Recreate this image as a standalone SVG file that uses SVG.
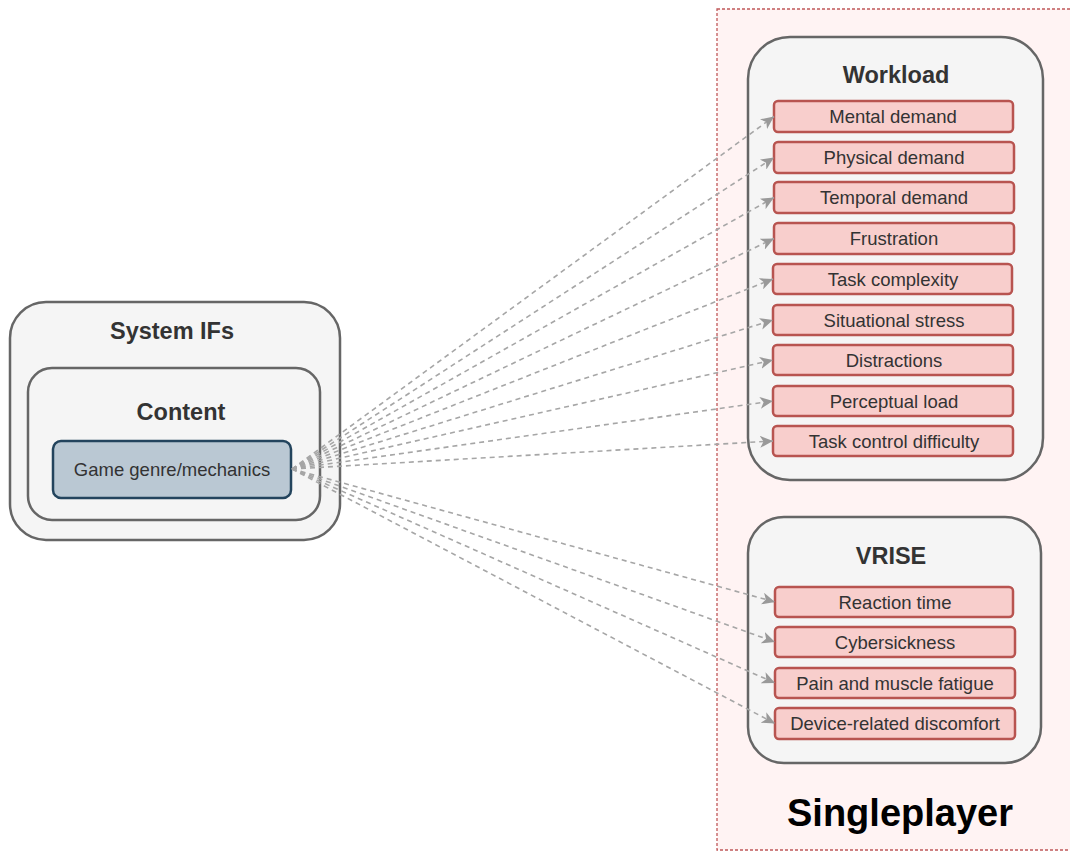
<svg xmlns="http://www.w3.org/2000/svg" width="1070" height="852" viewBox="0 0 1070 852">
<style>
.cont{fill:#f5f5f5;stroke:#666666;stroke-width:2.5}
.item{fill:#f8cecc;stroke:#b85450;stroke-width:2.5}
.it{font-family:"Liberation Sans",Arial,sans-serif;font-size:18.5px;fill:#333333;text-anchor:middle}
.tt{font-family:"Liberation Sans",Arial,sans-serif;font-size:23.5px;font-weight:bold;fill:#333333;text-anchor:middle}
.conn{fill:none;stroke:#a6a6a6;stroke-width:1.6;stroke-dasharray:5 4}
</style>
<defs>
<marker id="arr" markerUnits="userSpaceOnUse" markerWidth="14" markerHeight="12" viewBox="0 0 14 12" refX="13" refY="6" orient="auto">
<path d="M0,0 L13,6 L0,12 L3.5,6 Z" fill="#999999"/>
</marker>
</defs>
<rect width="1070" height="852" fill="#ffffff"/>
<g id="singleplayer">
<rect x="717" y="9" width="360" height="841" fill="#fff3f3" stroke="#c0585a" stroke-width="1.3" stroke-dasharray="3 2"/>
<text x="900" y="826" font-family="Liberation Sans,Arial,sans-serif" font-size="38" font-weight="bold" fill="#000000" text-anchor="middle">Singleplayer</text>
</g>
<g id="system-ifs">
<rect class="cont" x="10" y="302" width="330" height="238" rx="36"/>
<text class="tt" x="172" y="339">System IFs</text>
</g>
<g id="content">
<rect class="cont" x="28" y="368" width="292" height="152" rx="24"/>
<text class="tt" x="181" y="420">Content</text>
</g>
<g id="game-genre">
<rect x="53" y="441" width="238" height="57" rx="8" fill="#bac8d3" stroke="#23445d" stroke-width="2.5"/>
<text class="it" x="172" y="476">Game genre/mechanics</text>
</g>
<g id="workload">
<rect class="cont" x="748" y="37" width="295" height="443" rx="42"/>
<text class="tt" x="896" y="83">Workload</text>
</g>
<g id="vrise">
<rect class="cont" x="748" y="517" width="293" height="246" rx="36"/>
<text class="tt" x="891" y="564">VRISE</text>
</g>
<g id="mental-demand"><rect class="item" x="774" y="101" width="239" height="31" rx="4"/><text class="it" x="893" y="123">Mental demand</text></g>
<g id="physical-demand"><rect class="item" x="774" y="142" width="240" height="31" rx="4"/><text class="it" x="894" y="164">Physical demand</text></g>
<g id="temporal-demand"><rect class="item" x="774" y="182" width="240" height="31" rx="4"/><text class="it" x="894" y="204">Temporal demand</text></g>
<g id="frustration"><rect class="item" x="774" y="223" width="240" height="31" rx="4"/><text class="it" x="894" y="245">Frustration</text></g>
<g id="task-complexity"><rect class="item" x="773" y="264" width="239" height="30" rx="4"/><text class="it" x="893" y="286">Task complexity</text></g>
<g id="situational-stress"><rect class="item" x="773" y="305" width="240" height="30" rx="4"/><text class="it" x="894" y="327">Situational stress</text></g>
<g id="distractions"><rect class="item" x="773" y="345" width="240" height="30" rx="4"/><text class="it" x="894" y="367">Distractions</text></g>
<g id="perceptual-load"><rect class="item" x="773" y="386" width="240" height="30" rx="4"/><text class="it" x="894" y="408">Perceptual load</text></g>
<g id="task-control-difficulty"><rect class="item" x="773" y="426" width="240" height="30" rx="4"/><text class="it" x="894" y="448">Task control difficulty</text></g>
<g id="reaction-time"><rect class="item" x="775" y="587" width="238" height="30" rx="4"/><text class="it" x="895" y="609">Reaction time</text></g>
<g id="cybersickness"><rect class="item" x="775" y="627" width="240" height="30" rx="4"/><text class="it" x="895" y="649">Cybersickness</text></g>
<g id="pain-fatigue"><rect class="item" x="775" y="668" width="240" height="30" rx="4"/><text class="it" x="895" y="690">Pain and muscle fatigue</text></g>
<g id="device-discomfort"><rect class="item" x="775" y="708" width="240" height="31" rx="4"/><text class="it" x="895" y="730">Device-related discomfort</text></g>
<g id="connectors">
<path class="conn" marker-end="url(#arr)" d="M292,469 L774,116.5"/>
<path class="conn" marker-end="url(#arr)" d="M292,469 L774,157.5"/>
<path class="conn" marker-end="url(#arr)" d="M292,469 L774,197.5"/>
<path class="conn" marker-end="url(#arr)" d="M292,469 L774,238.5"/>
<path class="conn" marker-end="url(#arr)" d="M292,469 L773,279"/>
<path class="conn" marker-end="url(#arr)" d="M292,469 L773,320"/>
<path class="conn" marker-end="url(#arr)" d="M292,469 L773,360"/>
<path class="conn" marker-end="url(#arr)" d="M292,469 L773,401"/>
<path class="conn" marker-end="url(#arr)" d="M292,469 L773,441"/>
<path class="conn" marker-end="url(#arr)" d="M292,469 L775,602"/>
<path class="conn" marker-end="url(#arr)" d="M292,469 L775,642"/>
<path class="conn" marker-end="url(#arr)" d="M292,469 L775,683"/>
<path class="conn" marker-end="url(#arr)" d="M292,469 L775,723.5"/>
</g>
</svg>
